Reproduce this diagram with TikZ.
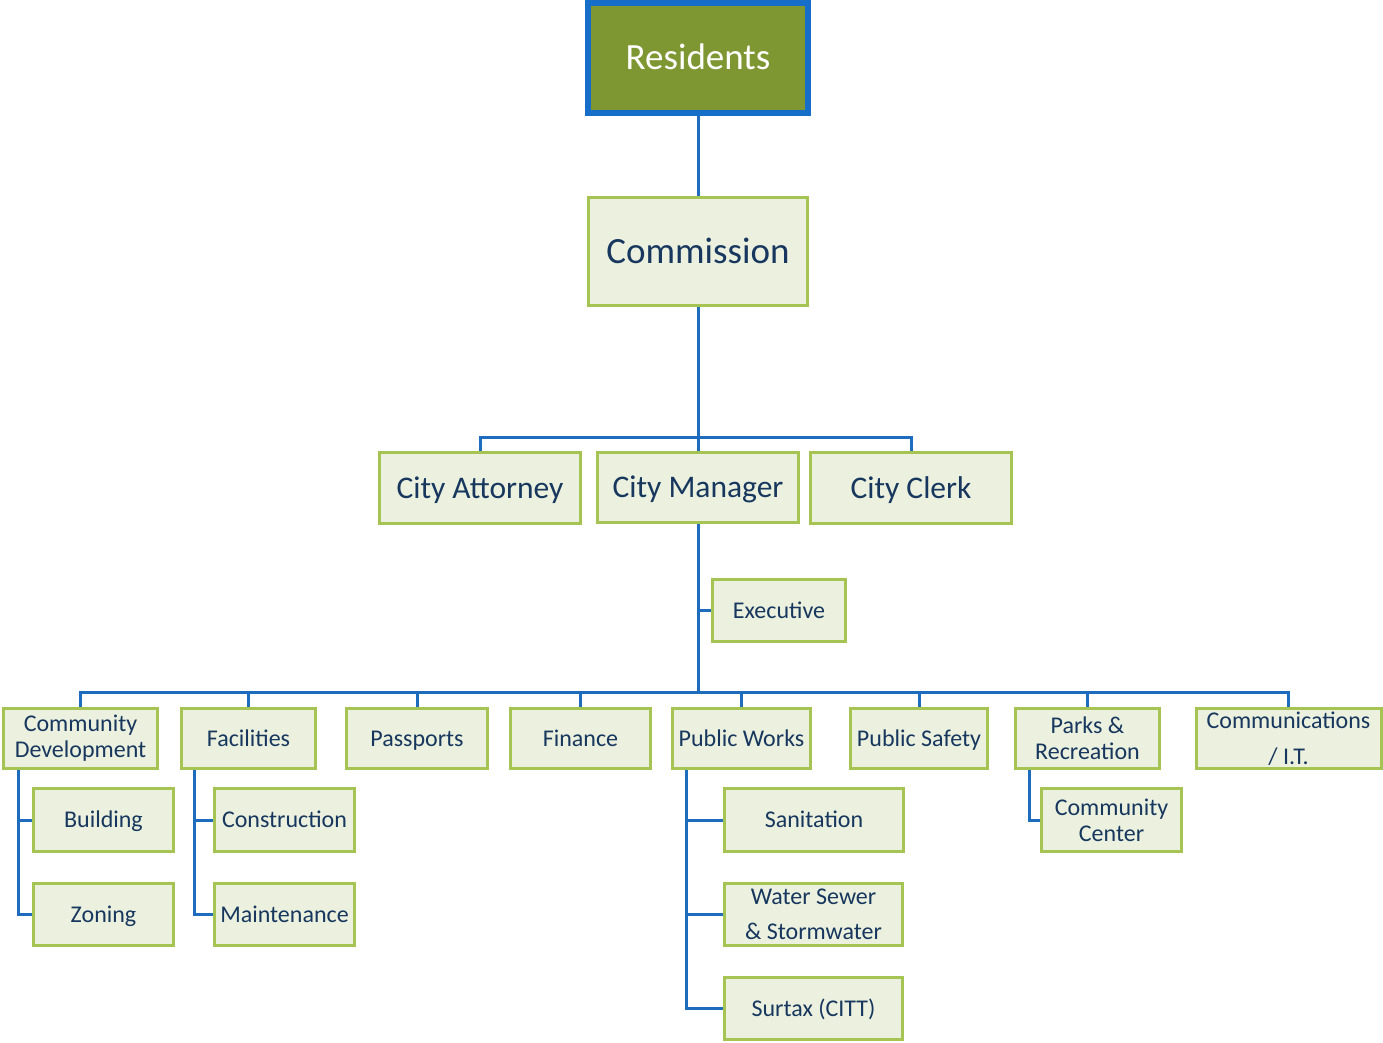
\documentclass[tikz,border=0pt]{standalone}
\usepackage{fontspec}
\setmainfont{Carlito}
\usetikzlibrary{backgrounds}
\definecolor{lineblue}{RGB}{30,108,190}
\definecolor{resborder}{RGB}{22,110,200}
\definecolor{olive}{RGB}{127,151,51}
\definecolor{lite}{RGB}{235,241,222}
\definecolor{grn}{RGB}{166,196,84}
\definecolor{navy}{RGB}{23,55,94}
\tikzset{
  box/.style={draw=grn, fill=lite, line width=3pt, text=navy, inner sep=0pt, align=center,
    font=\fontsize{24}{26}\selectfont, text height=19.2pt, text depth=3.8pt},
  multi/.style={text height=, text depth=},
  bigbox/.style={box, font=\fontsize{37}{40}\selectfont, text height=29.6pt, text depth=5.9pt},
  midbox/.style={box, font=\fontsize{31.5}{34}\selectfont, text height=25.2pt, text depth=5pt},
  resbox/.style={draw=resborder, fill=olive, line width=6pt, text=white, inner sep=0pt,
    font=\fontsize{37}{40}\selectfont, text height=29.6pt, text depth=5.9pt},
  conn/.style={draw=lineblue, line width=3pt},
}
\begin{document}
\begin{tikzpicture}[x=1pt,y=-1pt]
\useasboundingbox (0,0) rectangle (1383,1043);
% top
\node[resbox, minimum width=220, minimum height=110] (res) at (698,58) {Residents};
\node[bigbox, minimum width=219, minimum height=108] (com) at (698,251.5) {Commission};
\node[midbox, minimum width=201, minimum height=71] (ca) at (480,488) {City Attorney};
\node[midbox, minimum width=201, minimum height=70] (cm) at (698,487.5) {City Manager};
\node[midbox, minimum width=201, minimum height=71] (cc) at (911,488) {City Clerk};
\node[box, minimum width=133, minimum height=62] (exe) at (779,610.5) {Executive};
% department row
\node[box, multi, minimum width=154, minimum height=60] (cd) at (80.5,738.5) {Community\\Development};
\node[box, minimum width=134, minimum height=60] (fac) at (248.5,738.5) {Facilities};
\node[box, minimum width=141, minimum height=60] (pas) at (417,738.5) {Passports};
\node[box, minimum width=140, minimum height=60] (fin) at (580.5,738.5) {Finance};
\node[box, minimum width=138, minimum height=60] (pw) at (741.5,738.5) {Public Works};
\node[box, minimum width=137, minimum height=60] (ps) at (919,738.5) {Public Safety};
\node[box, multi, minimum width=144, minimum height=60] (pr) at (1087.5,738.5) {Parks \&\\Recreation};
\node[box, multi, minimum width=185, minimum height=60, font=\fontsize{24}{36}\selectfont] (cit) at (1288.5,738.5) {Communications\\/ I.T.};
% sub units
\node[box, minimum width=140, minimum height=63] (bld) at (103.5,820) {Building};
\node[box, minimum width=140, minimum height=62] (zon) at (103.5,914.5) {Zoning};
\node[box, minimum width=140, minimum height=63] (con) at (284.5,820) {Construction};
\node[box, minimum width=140, minimum height=62] (mai) at (284.5,914.5) {Maintenance};
\node[box, minimum width=179, minimum height=63] (san) at (814,820) {Sanitation};
\node[box, multi, minimum width=178, minimum height=62, font=\fontsize{24}{35.5}\selectfont] (wat) at (813.5,914.5) {Water Sewer\\\& Stormwater};
\node[box, minimum width=178, minimum height=62] (sur) at (813.5,1008.5) {Surtax (CITT)};
\node[box, multi, minimum width=140, minimum height=63] (cce) at (1111.5,820) {Community\\Center};
\coordinate (busA) at (698,437);
\coordinate (busB) at (698,692);
\begin{scope}[on background layer]
\draw[conn] (res.south) -- (com.north);
\draw[conn] (com.south) -- (cm.north);
\draw[conn] (ca.north) |- (busA) -| (cc.north);
\draw[conn] (cm.south) -- (busB);
\draw[conn] (cm.south |- exe.west) -- (exe.west);
\draw[conn] (cd.north) |- (busB) -| (cit.north);
\foreach \n in {fac,pas,fin,pw,ps,pr}{\draw[conn] (\n.north) -- (\n.north |- busB);}
\draw[conn] ([xshift=16pt]cd.south west) |- (zon.west);
\draw[conn] ([xshift=16pt]cd.south west |- bld.west) -- (bld.west);
\draw[conn] ([xshift=14pt]fac.south west) |- (mai.west);
\draw[conn] ([xshift=14pt]fac.south west |- con.west) -- (con.west);
\draw[conn] ([xshift=15pt]pw.south west) |- (sur.west);
\draw[conn] ([xshift=15pt]pw.south west |- san.west) -- (san.west);
\draw[conn] ([xshift=15pt]pw.south west |- wat.west) -- (wat.west);
\draw[conn] ([xshift=15pt]pr.south west) |- (cce.west);
\end{scope}
\end{tikzpicture}
\end{document}
